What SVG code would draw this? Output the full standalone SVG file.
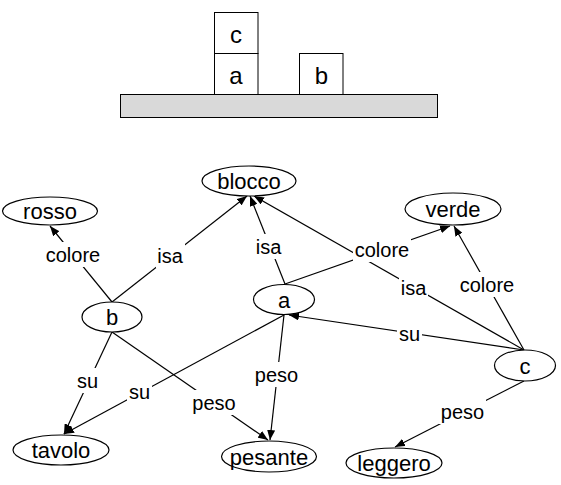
<svg xmlns="http://www.w3.org/2000/svg" width="561" height="485" viewBox="0 0 561 485">
<defs>
<marker id="arr" markerWidth="10" markerHeight="8" refX="10" refY="4" orient="auto" markerUnits="userSpaceOnUse">
<path d="M0,0 L10,4 L0,8 z" fill="#000"/>
</marker>
<style>
.blk{fill:#fff;stroke:#000;stroke-width:1}
.tbl{fill:#d9d9d9;stroke:#000;stroke-width:1}
.bt{font-family:"Liberation Sans",Arial,sans-serif;font-size:24px;text-anchor:middle;fill:#000}
.node ellipse{fill:#fff;stroke:#000;stroke-width:1.2}
.node text{font-family:"Liberation Sans",Arial,sans-serif;font-size:22px;text-anchor:middle;fill:#000}
.edges line{stroke:#000;stroke-width:1.2;marker-end:url(#arr)}
.lbl rect{fill:#fff}
.lbl text{font-family:"Liberation Sans",Arial,sans-serif;font-size:20px;text-anchor:middle;fill:#000}
</style>
</defs>
<rect width="561" height="485" fill="#fff"/>
<g id="scene">
<rect class="tbl" x="120.5" y="94.5" width="317" height="23"/>
<rect class="blk" x="214.5" y="12.5" width="43.5" height="41"/>
<rect class="blk" x="214.5" y="53.5" width="43.5" height="41"/>
<rect class="blk" x="299.5" y="53.5" width="43.5" height="41"/>
<text class="bt" x="236" y="43">c</text>
<text class="bt" x="236" y="84">a</text>
<text class="bt" x="321.5" y="84">b</text>
</g>
<g id="connectors" class="edges">
<line x1="112" y1="302" x2="50" y2="226"/>
<line x1="112" y1="302" x2="247" y2="196"/>
<line x1="285" y1="284" x2="250" y2="196"/>
<line x1="524" y1="350" x2="254" y2="196"/>
<line x1="285" y1="284" x2="450" y2="226"/>
<line x1="524" y1="350" x2="454" y2="226"/>
<line x1="524" y1="350" x2="289" y2="315"/>
<line x1="284" y1="315" x2="64" y2="434"/>
<line x1="112" y1="332" x2="64" y2="434"/>
<line x1="112" y1="332" x2="268" y2="440"/>
<line x1="284" y1="315" x2="270" y2="440"/>
<line x1="524" y1="381" x2="395" y2="447"/>
</g>
<g id="labels" class="lbl">
<rect x="44" y="242" width="58" height="25"/><text x="73" y="262">colore</text>
<rect x="156" y="243" width="29" height="25"/><text x="170" y="263">isa</text>
<rect x="254" y="234" width="29" height="25"/><text x="268.5" y="254">isa</text>
<rect x="353" y="237" width="58" height="25"/><text x="382" y="257">colore</text>
<rect x="399" y="275" width="29" height="25"/><text x="413.5" y="295">isa</text>
<rect x="458" y="272" width="58" height="25"/><text x="487" y="292">colore</text>
<rect x="397" y="321" width="25" height="25"/><text x="409.5" y="341">su</text>
<rect x="75" y="368" width="25" height="25"/><text x="87.5" y="388">su</text>
<rect x="127" y="379" width="25" height="25"/><text x="139.5" y="399">su</text>
<rect x="191" y="390" width="47" height="25"/><text x="214" y="410">peso</text>
<rect x="253" y="362" width="47" height="25"/><text x="276.5" y="382">peso</text>
<rect x="439" y="399" width="47" height="25"/><text x="462.5" y="419">peso</text>
</g>
<g id="blocco" class="node"><ellipse cx="249" cy="181" rx="47" ry="15"/><text x="249" y="189">blocco</text></g>
<g id="rosso" class="node"><ellipse cx="50" cy="211" rx="47.5" ry="14"/><text x="50" y="219">rosso</text></g>
<g id="verde" class="node"><ellipse cx="453" cy="209" rx="48" ry="16"/><text x="453" y="217">verde</text></g>
<g id="b" class="node"><ellipse cx="112" cy="317" rx="30" ry="15"/><text x="112" y="325">b</text></g>
<g id="a" class="node"><ellipse cx="284" cy="299.5" rx="30.5" ry="15"/><text x="284" y="307.5">a</text></g>
<g id="c" class="node"><ellipse cx="525" cy="365.5" rx="30.5" ry="15.5"/><text x="525" y="373.5">c</text></g>
<g id="tavolo" class="node"><ellipse cx="61" cy="450" rx="48" ry="15"/><text x="61" y="458">tavolo</text></g>
<g id="pesante" class="node"><ellipse cx="269" cy="456.5" rx="47.5" ry="15.5"/><text x="269" y="464.5">pesante</text></g>
<g id="leggero" class="node"><ellipse cx="394" cy="463" rx="48" ry="15"/><text x="394" y="471">leggero</text></g>
</svg>
